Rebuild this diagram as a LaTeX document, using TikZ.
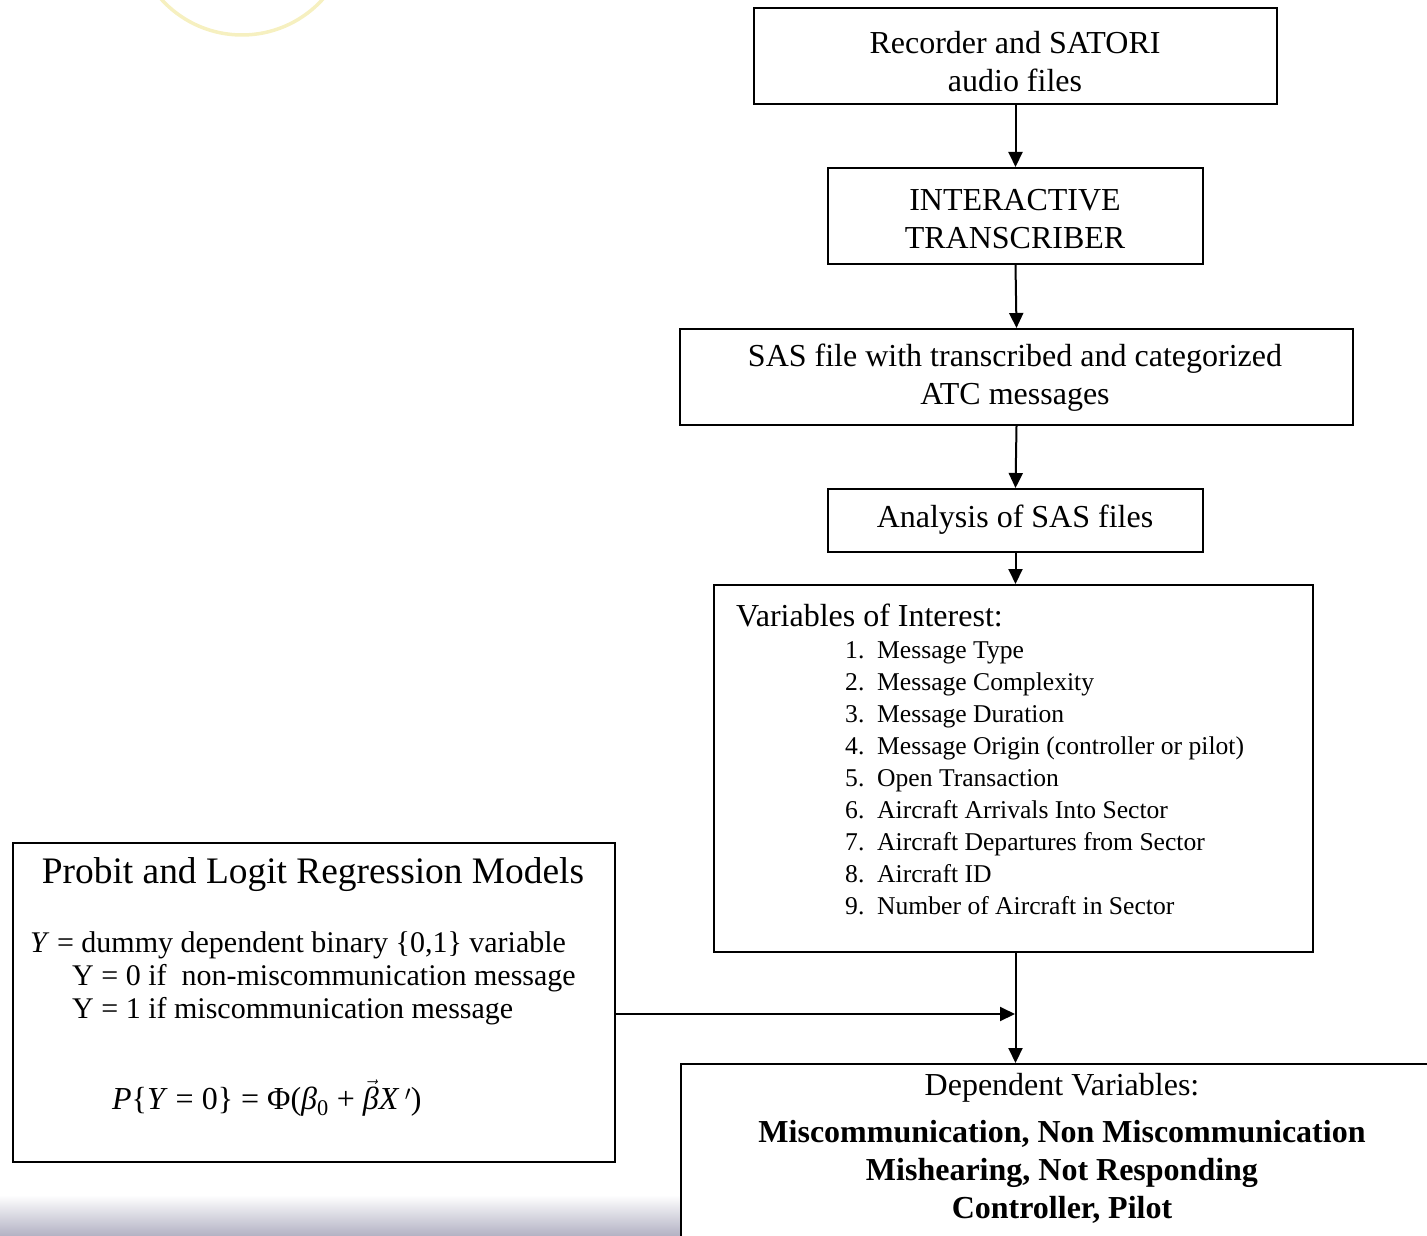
\documentclass[tikz,border=0pt]{standalone}
\usepackage{fontspec}
\setmainfont{Liberation Serif}
\usetikzlibrary{arrows.meta}
\definecolor{barGray}{RGB}{178,177,195}
\definecolor{logoYellow}{RGB}{240,230,150}
\begin{document}
\begin{tikzpicture}[x=1pt,y=-1pt,
  frame/.style={draw=black, line width=2pt, fill=white, inner sep=0pt, anchor=north west},
  arr/.style={line width=2pt, -{Triangle[length=15pt,width=14pt]}},
  body/.style={font=\fontsize{32}{38}\selectfont, align=center, inner sep=0pt},
  itemtext/.style={font=\fontsize{25.6}{32}\selectfont, align=left, anchor=west, inner sep=0pt},
  modeltext/.style={font=\fontsize{30}{33}\selectfont, align=left, anchor=west, inner sep=0pt}]
\useasboundingbox (0,0) rectangle (1427,1236);

% faint logo ring in the corner and shaded footer band
\draw[logoYellow, line width=3.5pt, opacity=0.6] (242,-74) circle (109);
\shade[top color=white, bottom color=barGray] (0,1195) rectangle (700,1236);

% flow chart boxes
\node[frame, minimum width=523, minimum height=96] (rec) at (753,7) {};
\node[frame, minimum width=375, minimum height=96] (itr) at (827,167) {};
\node[frame, minimum width=673, minimum height=96] (sas) at (679,328) {};
\node[frame, minimum width=375, minimum height=63] (ana) at (827,488) {};
\node[frame, minimum width=599, minimum height=367] (var) at (713,584) {};
\node[frame, minimum width=770, minimum height=200] (dep) at (680,1063) {};
\node[frame, minimum width=602, minimum height=319] (mod) at (12,842) {};

% box texts
\node[body] at (1015,62) {Recorder and SATORI\\ audio files};
\node[body] at (1015,219) {INTERACTIVE\\ TRANSCRIBER};
\node[body] at (1015,378) {SAS file with transcribed and categorized\\ ATC messages};
\node[body] at (1015,520) {Analysis of SAS files};

\node[body, anchor=west] at (736,615) {Variables of Interest:};
\node[itemtext] at (845,778) {1.\ \ Message Type\\
2.\ \ Message Complexity\\
3.\ \ Message Duration\\
4.\ \ Message Origin (controller or pilot)\\
5.\ \ Open Transaction\\
6.\ \ Aircraft Arrivals Into Sector\\
7.\ \ Aircraft Departures from Sector\\
8.\ \ Aircraft ID\\
9.\ \ Number of Aircraft in Sector};

\node[body] at (1062,1088) {Dependent Variables:};
\node[body, font=\fontsize{32}{38}\selectfont\bfseries] at (1062,1172)
  {Miscommunication, Non Miscommunication\\ Mishearing, Not Responding\\ Controller, Pilot};

\node[body, font=\fontsize{37.4}{42}\selectfont] at (313,875) {Probit and Logit Regression Models};
\node[modeltext] at (30,945) {\textit{Y} = dummy dependent binary \{0,1\} variable};
\node[modeltext] at (72,994.5) {Y = 0 if\ \ non-miscommunication message\\ Y = 1 if miscommunication message};
\node[modeltext, font=\fontsize{32}{38}\selectfont] at (112,1098)
  {\textit{P}\{\textit{Y} = 0\} = Φ(\textit{β}\textsubscript{0} + $\vec{\hbox{\itshape β}}$\textit{X}\,$'$)};

% connectors
\coordinate (join) at (1015,1014);
\draw[arr] (rec.south) -- (itr.north);
\draw[arr] (itr.south) -- (sas.north);
\draw[arr] (sas.south) -- (ana.north);
\draw[arr] (ana.south) -- (ana.south |- var.north);
\draw[arr] (ana.south |- var.south) -- (ana.south |- dep.north);
\draw[arr] (mod.east |- join) -- (join);
\end{tikzpicture}
\end{document}
